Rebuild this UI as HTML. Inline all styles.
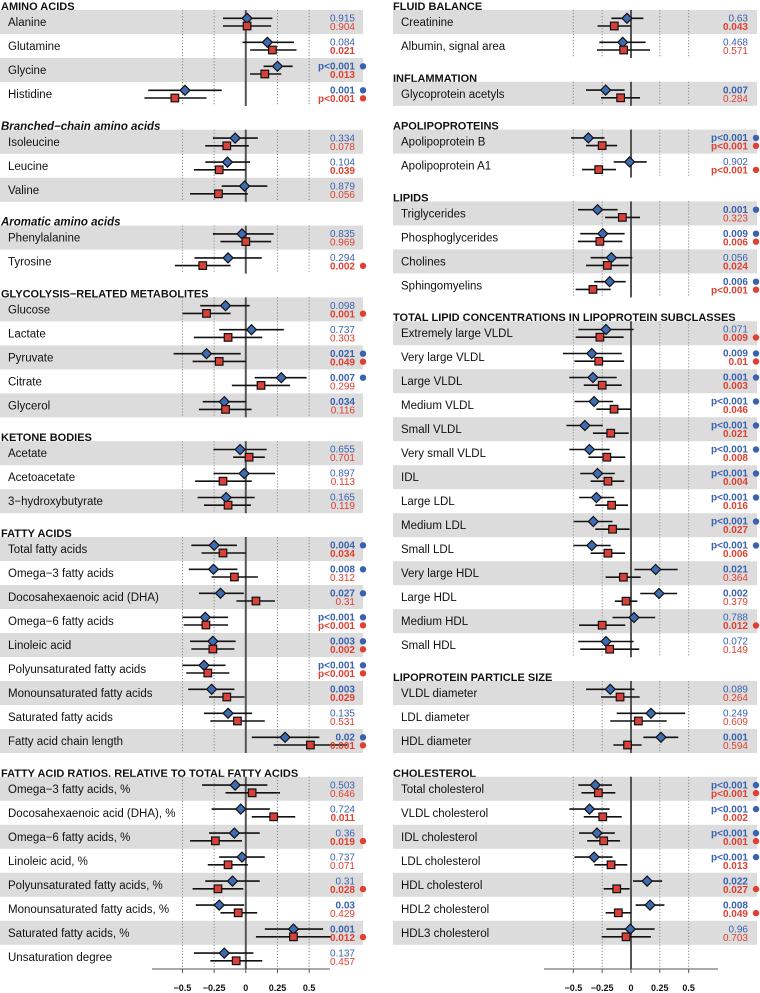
<!DOCTYPE html>
<html><head><meta charset="utf-8"><style>
body{margin:0;background:#fff}
svg{display:block;font-family:"Liberation Sans",Arial,sans-serif}
</style></head><body>
<svg id="chart" width="760" height="993" viewBox="0 0 760 993" xmlns="http://www.w3.org/2000/svg"></svg>
<script>
// ---------- LEFT PANEL DATA ----------
const leftSections = [["AMINO ACIDS",4,"caps"],["Branched\u2212chain amino acids",3,"ital"],["Aromatic amino acids",2,"ital"],["GLYCOLYSIS\u2212RELATED METABOLITES",5,"caps"],["KETONE BODIES",3,"caps"],["FATTY ACIDS",9,"caps"],["FATTY ACID RATIOS, RELATIVE TO TOTAL FATTY ACIDS",8,"caps"]];
const leftLabels = ["Alanine","Glutamine","Glycine","Histidine","Isoleucine","Leucine","Valine","Phenylalanine","Tyrosine","Glucose","Lactate","Pyruvate","Citrate","Glycerol","Acetate","Acetoacetate","3\u2212hydroxybutyrate","Total fatty acids","Omega\u22123 fatty acids","Docosahexaenoic acid (DHA)","Omega\u22126 fatty acids","Linoleic acid","Polyunsaturated fatty acids","Monounsaturated fatty acids","Saturated fatty acids","Fatty acid chain length","Omega\u22123 fatty acids, %","Docosahexaenoic acid (DHA), %","Omega\u22126 fatty acids, %","Linoleic acid, %","Polyunsaturated fatty acids, %","Monounsaturated fatty acids, %","Saturated fatty acids, %","Unsaturation degree"];
const leftBlueEst = [0.01,0.17,0.25,-0.48,-0.084,-0.145,-0.01,-0.03,-0.14,-0.16,0.045,-0.31,0.28,-0.17,-0.045,-0.013,-0.155,-0.25,-0.255,-0.2,-0.32,-0.26,-0.33,-0.27,-0.14,0.31,-0.084,-0.04,-0.09,-0.03,-0.105,-0.21,0.376,-0.17];
const leftBlueLo = [-0.18,-0.026,0.14,-0.77,-0.26,-0.32,-0.19,-0.26,-0.405,-0.36,-0.21,-0.57,0.07,-0.34,-0.255,-0.255,-0.38,-0.43,-0.45,-0.37,-0.5,-0.44,-0.5,-0.455,-0.33,0.047,-0.345,-0.27,-0.29,-0.21,-0.32,-0.395,0.15,-0.41];
const leftBlueHi = [0.21,0.38,0.37,-0.19,0.095,0.034,0.17,0.22,0.126,0.03,0.3,-0.04,0.48,0,0.165,0.23,0.07,-0.07,-0.066,-0.016,-0.14,-0.08,-0.16,-0.09,0.05,0.58,0.17,0.19,0.11,0.15,0.11,-0.013,0.61,0.06];
const leftRedEst = [0.01,0.21,0.15,-0.56,-0.15,-0.21,-0.216,0,-0.34,-0.31,-0.14,-0.21,0.12,-0.16,0.026,-0.18,-0.14,-0.18,-0.09,0.08,-0.315,-0.26,-0.3,-0.15,-0.066,0.51,0.05,0.22,-0.24,-0.14,-0.22,-0.06,0.376,-0.076];
const leftRedLo = [-0.18,0.034,0.034,-0.8,-0.32,-0.41,-0.44,-0.2,-0.56,-0.5,-0.41,-0.42,-0.11,-0.37,-0.1,-0.4,-0.33,-0.35,-0.27,-0.074,-0.49,-0.43,-0.47,-0.29,-0.28,0.22,-0.16,0.047,-0.44,-0.3,-0.42,-0.2,0.08,-0.28];
const leftRedHi = [0.2,0.4,0.28,-0.31,0.024,0,0.016,0.2,-0.12,-0.12,0.13,0,0.35,0.045,0.15,0.047,0.04,0,0.095,0.23,-0.14,-0.09,-0.13,-0.01,0.15,0.8,0.27,0.39,-0.03,0.016,-0.02,0.09,0.67,0.13];
const leftPBlue = ["0.915","0.084","p<0.001","0.001","0.334","0.104","0.879","0.835","0.294","0.098","0.737","0.021","0.007","0.034","0.655","0.897","0.165","0.004","0.008","0.027","p<0.001","0.003","p<0.001","0.003","0.135","0.02","0.503","0.724","0.36","0.737","0.31","0.03","0.001","0.137"];
const leftPRed = ["0.904","0.021","0.013","p<0.001","0.078","0.039","0.056","0.969","0.002","0.001","0.303","0.049","0.299","0.116","0.701","0.113","0.119","0.034","0.312","0.31","p<0.001","0.002","p<0.001","0.029","0.531","0.001","0.646","0.011","0.019","0.071","0.028","0.429","0.012","0.457"];
const leftStarBlue = [0,0,1,1,0,0,0,0,0,0,0,1,1,0,0,0,0,1,1,1,1,1,1,0,0,1,0,0,0,0,0,0,0,0];
const leftStarRed  = [0,0,0,1,0,0,0,0,1,1,0,1,0,0,0,0,0,0,0,0,1,1,1,0,0,1,0,0,1,0,1,0,1,0];
// ---------- RIGHT PANEL DATA ----------
const rightSections = [["FLUID BALANCE",2,"caps"],["INFLAMMATION",1,"caps"],["APOLIPOPROTEINS",2,"caps"],["LIPIDS",4,"caps"],["TOTAL LIPID CONCENTRATIONS IN LIPOPROTEIN SUBCLASSES",14,"caps"],["LIPOPROTEIN PARTICLE SIZE",3,"caps"],["CHOLESTEROL",7,"caps"]];
const rightLabels = ["Creatinine","Albumin, signal area","Glycoprotein acetyls","Apolipoprotein B","Apolipoprotein A1","Triglycerides","Phosphoglycerides","Cholines","Sphingomyelins","Extremely large VLDL","Very large VLDL","Large VLDL","Medium VLDL","Small VLDL","Very small VLDL","IDL","Large LDL","Medium LDL","Small LDL","Very large HDL","Large HDL","Medium HDL","Small HDL","VLDL diameter","LDL diameter","HDL diameter","Total cholesterol","VLDL cholesterol","IDL cholesterol","LDL cholesterol","HDL cholesterol","HDL2 cholesterol","HDL3 cholesterol"];
const rightBlueEst = [-0.035,-0.072,-0.22,-0.37,-0.012,-0.29,-0.245,-0.17,-0.185,-0.217,-0.34,-0.33,-0.32,-0.4,-0.36,-0.29,-0.3,-0.327,-0.34,0.214,0.243,0.026,-0.217,-0.18,0.173,0.26,-0.31,-0.36,-0.295,-0.32,0.14,0.165,-0.006];
const rightBlueLo = [-0.17,-0.275,-0.39,-0.52,-0.15,-0.46,-0.44,-0.35,-0.32,-0.457,-0.59,-0.535,-0.49,-0.56,-0.535,-0.44,-0.45,-0.497,-0.5,0.03,0.08,-0.16,-0.457,-0.39,-0.124,0.107,-0.457,-0.535,-0.45,-0.49,0.017,0.04,-0.214];
const rightBlueHi = [0.107,0.127,-0.055,-0.23,0.136,-0.116,-0.055,0.012,-0.046,0.023,-0.08,-0.124,-0.156,-0.245,-0.185,-0.14,-0.145,-0.16,-0.176,0.405,0.4,0.21,0.023,0.03,0.47,0.41,-0.165,-0.185,-0.14,-0.16,0.27,0.29,0.205];
const rightRedEst = [-0.145,-0.064,-0.09,-0.25,-0.28,-0.075,-0.27,-0.205,-0.33,-0.27,-0.28,-0.25,-0.147,-0.176,-0.21,-0.2,-0.168,-0.16,-0.2,-0.066,-0.043,-0.25,-0.185,-0.095,0.064,-0.03,-0.283,-0.245,-0.237,-0.173,-0.124,-0.11,-0.043];
const rightRedLo = [-0.29,-0.295,-0.26,-0.39,-0.425,-0.225,-0.46,-0.39,-0.48,-0.48,-0.49,-0.41,-0.3,-0.33,-0.37,-0.35,-0.31,-0.31,-0.35,-0.22,-0.14,-0.45,-0.44,-0.26,-0.18,-0.153,-0.43,-0.41,-0.38,-0.318,-0.237,-0.22,-0.254];
const rightRedHi = [0,0.165,0.078,-0.12,-0.13,0.078,-0.075,-0.02,-0.176,-0.064,-0.06,-0.08,0,-0.02,-0.05,-0.058,-0.026,-0.012,-0.052,0.084,0.055,-0.05,0.072,0.075,0.31,0.092,-0.136,-0.08,-0.095,-0.032,-0.012,0,0.173];
const rightPBlue = ["0.63","0.468","0.007","p<0.001","0.902","0.001","0.009","0.056","0.006","0.071","0.009","0.001","p<0.001","p<0.001","p<0.001","p<0.001","p<0.001","p<0.001","p<0.001","0.021","0.002","0.788","0.072","0.089","0.249","0.001","p<0.001","p<0.001","p<0.001","p<0.001","0.022","0.008","0.96"];
const rightPRed = ["0.043","0.571","0.284","p<0.001","p<0.001","0.323","0.006","0.024","p<0.001","0.009","0.01","0.003","0.046","0.021","0.008","0.004","0.016","0.027","0.006","0.364","0.379","0.012","0.149","0.264","0.609","0.594","p<0.001","0.002","0.001","0.013","0.027","0.049","0.703"];
const rightStarBlue = [0,0,0,1,0,1,1,0,1,0,1,1,1,1,1,1,1,1,1,0,0,0,0,0,0,0,1,1,1,1,0,0,0];
const rightStarRed  = [0,0,0,1,1,0,1,0,1,1,1,0,0,0,0,0,0,0,0,0,0,1,0,0,0,0,1,0,1,0,1,1,0];
const tickValues = [-0.5,-0.25,0,0.25,0.5];
const tickLabels = ["\u22120.5","\u22120.25","0","0.25","0.5"];

const NS="http://www.w3.org/2000/svg";
const svg=document.getElementById('chart');
function mk(tag,attrs,parent){const e=document.createElementNS(NS,tag);for(const k in attrs)e.setAttribute(k,attrs[k]);(parent||svg).appendChild(e);return e;}
const BLUE="#3a62b0", RED="#e0402f";
function isSig(p){return p.startsWith("p<")||parseFloat(p)<0.05;}

function drawPanel(cfg){
  const {bandX0,bandX1,labelX,headX,zeroX,pxPerUnit,pX,starX,axX0,axX1,sections,labels,bE,bL,bH,rE,rL,rH,pB,pR,sB,sR,prefix}=cfg;
  const xs=v=>zeroX+v*pxPerUnit;
  const g=mk('g',{});
  
  
  let idx=0, y0=22;
  sections.forEach((sec,si)=>{
    const [title,n,style]=sec;
    const hy=y0-16;
    const ht=mk('text',{x:headX,y:hy+4,'font-size':style==='caps'?11:11.5,'font-weight':'bold','font-style':style==='ital'?'italic':'normal',fill:'#111'},g);
    ht.textContent=title;
    
    
    for(let i=0;i<n;i++){
      if(i%2===0){
        const b=mk('rect',{x:bandX0,y:y0+i*24-12,width:bandX1-bandX0,height:24,fill:'#dcdcdc'},g);
        
        
      }
    }
    const top=y0-12, last=si===sections.length-1;
    const bot=last?969:y0+(n-1)*24+12;
    tickValues.forEach(v=>{
      if(v===0)return;
      const l=mk('line',{x1:xs(v),x2:xs(v),y1:top,y2:bot,stroke:'#8a8a8a','stroke-width':1,'stroke-dasharray':'1.2,1.8'},g);
      
      
    });
    const z=mk('line',{x1:xs(0),x2:xs(0),y1:top,y2:bot,stroke:'#555','stroke-width':2},g);
    
    
    for(let i=0;i<n;i++,idx++){
      const c=y0+i*24;
      const t=mk('text',{x:labelX,y:c+4,'font-size':11.5,fill:'#111'},g);
      t.textContent=labels[idx];
      
      
      const yb=c-3.7, yr=c+4;
      const lb=mk('line',{x1:xs(bL[idx]),x2:xs(bH[idx]),y1:yb,y2:yb,stroke:'#111','stroke-width':1.6},g);
      
      
      const lr=mk('line',{x1:xs(rL[idx]),x2:xs(rH[idx]),y1:yr,y2:yr,stroke:'#111','stroke-width':1.6},g);
      
      
      const bx=xs(bE[idx]);
      const d=mk('polygon',{points:`${bx},${yb-5} ${bx+5},${yb} ${bx},${yb+5} ${bx-5},${yb}`,fill:'#3f6bb3',stroke:'#111','stroke-width':1.2},g);
      
      
      const rx=xs(rE[idx]);
      const s=mk('rect',{x:rx-3.8,y:yr-3.8,width:7.6,height:7.6,fill:'#d9403a',stroke:'#111','stroke-width':1.2},g);
      
      
      const tb=mk('text',{x:pX,y:c-0.5,'font-size':10,'text-anchor':'end',fill:BLUE,'font-weight':isSig(pB[idx])?'bold':'normal'},g);
      tb.textContent=pB[idx];
      
      
      const tr=mk('text',{x:pX,y:c+8,'font-size':10,'text-anchor':'end',fill:RED,'font-weight':isSig(pR[idx])?'bold':'normal'},g);
      tr.textContent=pR[idx];
      
      
      if(sB[idx]){const st=mk('circle',{cx:starX,cy:c-3.7,r:3.2,fill:BLUE},g);
        
        }
      if(sR[idx]){const st=mk('circle',{cx:starX,cy:c+4.3,r:3.2,fill:RED},g);
        
        }
    }
    y0+= (n-1)*24+47.8;
  });
  const ax=mk('line',{x1:axX0,x2:axX1,y1:969,y2:969,stroke:'#555','stroke-width':1},g);
  
  
  tickValues.forEach((v,i)=>{
    const tk=mk('line',{x1:xs(v),x2:xs(v),y1:969,y2:973,stroke:'#555'},g);
    
    
    const tl=mk('text',{x:xs(v),y:991,'font-size':9,'font-weight':'bold','text-anchor':'middle',fill:'#111'},g);
    tl.textContent=tickLabels[i];
    
    
  });
}
drawPanel({bandX0:0,bandX1:363,labelX:8,headX:1,zeroX:245.8,pxPerUnit:126.7,pX:355,starX:363,axX0:152,axX1:330,
  sections:leftSections,labels:leftLabels,bE:leftBlueEst,bL:leftBlueLo,bH:leftBlueHi,rE:leftRedEst,rL:leftRedLo,rH:leftRedHi,pB:leftPBlue,pR:leftPRed,sB:leftStarBlue,sR:leftStarRed,prefix:'left'});
drawPanel({bandX0:393,bandX1:757,labelX:401,headX:393,zeroX:631,pxPerUnit:115.3,pX:748,starX:756,axX0:544,axX1:718,
  sections:rightSections,labels:rightLabels,bE:rightBlueEst,bL:rightBlueLo,bH:rightBlueHi,rE:rightRedEst,rL:rightRedLo,rH:rightRedHi,pB:rightPBlue,pR:rightPRed,sB:rightStarBlue,sR:rightStarRed,prefix:'right'});
</script>
</body></html>
